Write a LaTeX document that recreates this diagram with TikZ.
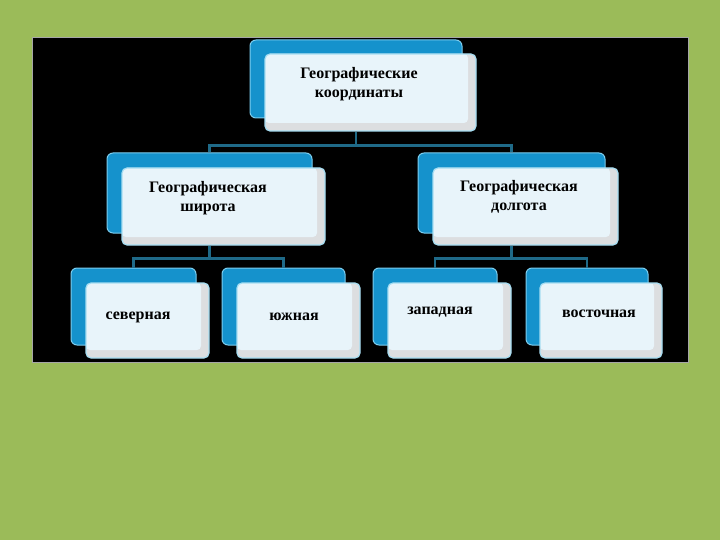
\documentclass[tikz,border=0pt]{standalone}
\usepackage{fontspec}
\setmainfont{Liberation Serif}
\usetikzlibrary{positioning}
\definecolor{slidegreen}{HTML}{9BBB59}
\definecolor{boxblue}{HTML}{1592CC}
\definecolor{boxedge}{HTML}{7CCDEE}
\definecolor{frontfill}{HTML}{E8F4FA}
\definecolor{frontedge}{HTML}{A6DDF2}
\definecolor{shadegray}{HTML}{DCDEE0}
\definecolor{linkteal}{HTML}{1F6A88}
\tikzset{
  panel/.style={
    rectangle, fill=black, draw=gray!70, line width=0.8pt,
    minimum width=656pt, minimum height=325pt, inner sep=0pt
  },
  backbox/.style={
    rectangle, rounded corners=6pt,
    fill=boxblue, draw=boxedge, line width=1pt, inner sep=0pt
  },
  frontbox/.style={
    rectangle, rounded corners=5pt,
    fill=shadegray, draw=frontedge, line width=1.2pt, inner sep=0pt,
    path picture={
      \fill[frontfill, rounded corners=4pt]
        (path picture bounding box.north west) rectangle
        ([xshift=-8pt, yshift=8pt]path picture bounding box.south east);
    }
  },
  boxtext/.style={
    align=center, text=black,
    font=\fontsize{16}{19}\selectfont\bfseries, inner sep=0pt
  },
  link/.style={linkteal, line width=2.6pt}
}

\begin{document}
\begin{tikzpicture}[x=1pt, y=-1pt]

  \fill[slidegreen] (0,0) rectangle (720,540);
  \useasboundingbox (0,0) rectangle (720,540);
  \node[panel] (panel) at (360,199.5) {};

  % top level
  \node[backbox, minimum width=212pt, minimum height=78pt] (geoB) at (356,79) {};
  \node[frontbox, minimum width=211pt, minimum height=77pt] (geoF) at (370.5,92.5) {};
  \node[boxtext] (geoT) at (359,84) {Географические\\координаты};

  % second level
  \node[backbox, minimum width=205pt, minimum height=80pt] (latB) at (209.5,193) {};
  \node[frontbox, minimum width=203pt, minimum height=77pt] (latF) at (223.5,206.5) {};
  \node[boxtext] (latT) at (208,198) {Географическая\\широта};

  \node[backbox, minimum width=187pt, minimum height=80pt] (lonB) at (511.5,193) {};
  \node[frontbox, minimum width=185pt, minimum height=77pt] (lonF) at (525.5,206.5) {};
  \node[boxtext] (lonT) at (519,197) {Географическая\\долгота};

  % third level
  \node[backbox, minimum width=125pt, minimum height=77pt] (northB) at (133.5,306.5) {};
  \node[frontbox, minimum width=123pt, minimum height=75pt] (northF) at (147.5,320.5) {};
  \node[boxtext] (northT) at (138,317) {северная};

  \node[backbox, minimum width=123pt, minimum height=77pt] (southB) at (283.5,306.5) {};
  \node[frontbox, minimum width=123pt, minimum height=75pt] (southF) at (298.5,320.5) {};
  \node[boxtext] (southT) at (294,317) {южная};

  \node[backbox, minimum width=124pt, minimum height=77pt] (westB) at (435,306.5) {};
  \node[frontbox, minimum width=123pt, minimum height=75pt] (westF) at (449.5,320.5) {};
  \node[boxtext] (westT) at (440,312) {западная};

  \node[backbox, minimum width=122pt, minimum height=77pt] (eastB) at (587,306.5) {};
  \node[frontbox, minimum width=122pt, minimum height=75pt] (eastF) at (601,320.5) {};
  \node[boxtext] (eastT) at (599,314) {восточная};

  % connectors
  \draw[link] (geoB.south |- geoF.south) -- ++(0,14) coordinate (geoJ) -| (latB.north);
  \draw[link] (geoJ) -| (lonB.north);
  \draw[link] (latB.south |- latF.south) -- ++(0,13) coordinate (latJ) -| (northB.north);
  \draw[link] (latJ) -| (southB.north);
  \draw[link] (lonB.south |- lonF.south) -- ++(0,13) coordinate (lonJ) -| (westB.north);
  \draw[link] (lonJ) -| (eastB.north);

\end{tikzpicture}
\end{document}
